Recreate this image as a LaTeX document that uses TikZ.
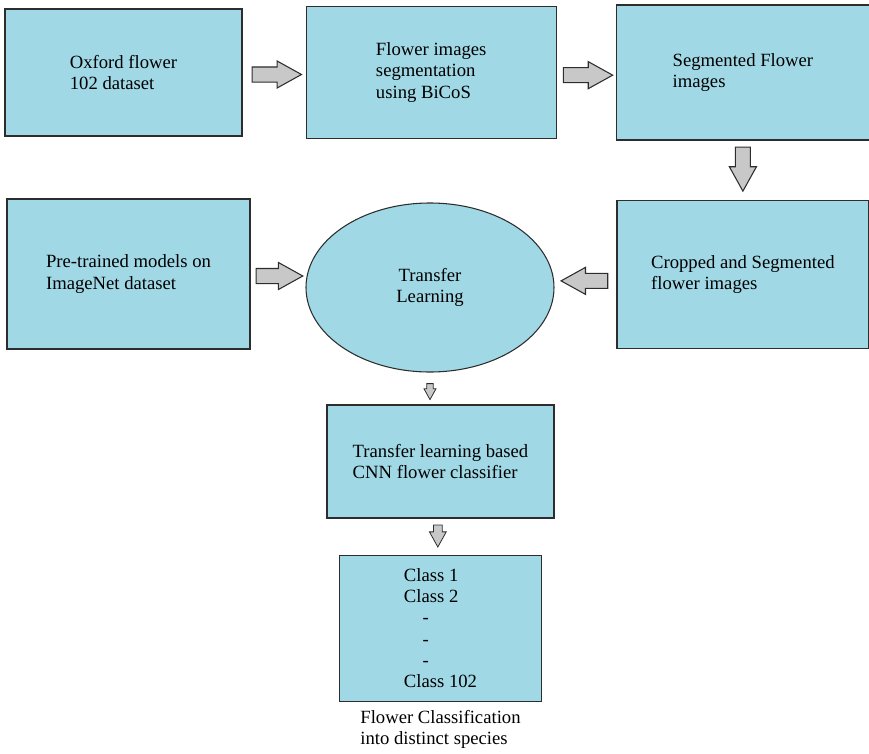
\documentclass[tikz,border=0pt]{standalone}
\usepackage{fontspec}
\setmainfont{Liberation Serif}
\usetikzlibrary{shapes.geometric,shapes.arrows,positioning}
\definecolor{boxblue}{RGB}{160,216,230}
\definecolor{arrowgray}{RGB}{200,200,200}
\definecolor{edgegray}{RGB}{45,45,45}
\tikzset
{
    process/.style={rectangle, draw=edgegray, line width=0.9pt, fill=boxblue, align=left, text=black},
    learner/.style={ellipse, draw=edgegray, line width=0.8pt, fill=boxblue, align=center, inner sep=0pt, text=black},
    bigarrow/.style={single arrow, draw=edgegray, line width=0.8pt, fill=arrowgray, inner xsep=0pt, inner ysep=5.25pt, single arrow head extend=4.5pt, single arrow tip angle=58, minimum height=37pt, anchor=tail},
    downarrow/.style={bigarrow, shape border rotate=270, inner xsep=5.25pt, inner ysep=0pt},
    smalldown/.style={downarrow, inner xsep=#1, single arrow head extend=#1, line width=0.6pt},
    caption/.style={align=left, inner sep=0pt, text=black}
}

\begin{document}
\begin{tikzpicture}[x=0.75pt, y=-0.75pt, font=\fontsize{14}{16}\selectfont]
	\useasboundingbox (0,0) rectangle (869,754);

	\node (oxf) [process, minimum width=177.75pt, minimum height=95.25pt] at (123.5,72.5) {Oxford flower\\102 dataset};
	\node (seg) [process, right=47.25pt of oxf, minimum width=187.5pt, minimum height=99pt] {Flower images\\segmentation\\using BiCoS};
	\node (segimg) [process, right=44.25pt of seg, minimum width=189.75pt, minimum height=101.25pt] {Segmented Flower\\images};
	\node (crop) [process, below=44.25pt of segimg, minimum width=189pt, minimum height=111pt] {Cropped and Segmented\\flower images};
	\node (tl) [learner, minimum width=186pt, minimum height=126.75pt] at (430,287.5) {Transfer\\Learning};
	\node (pre) [process, minimum width=182.25pt, minimum height=112.5pt] at (128.5,274) {Pre-trained models on\\ImageNet dataset};
	\node (cnn) [process, minimum width=170.25pt, minimum height=84.75pt] at (440.5,461.5) {Transfer learning based\\CNN flower classifier};
	\node (cls) [process, below=27pt of cnn, minimum width=151.5pt, minimum height=109.5pt] {Class 1\\Class 2\\\hspace{14pt}-\\\hspace{14pt}-\\\hspace{14pt}-\\Class 102};
	\node (cap) [caption, below=6pt of cls] {Flower Classification\\into distinct species};

	% block arrows between the stages
	\node (a1) [bigarrow, right=6.75pt of oxf, anchor=tail, yshift=-1.5pt] {};
	\node (a2) [bigarrow, right=4.5pt of seg, anchor=tail, yshift=-2pt] {};
	\node (a3) [downarrow, below=4.5pt of segimg, anchor=tail, minimum height=33pt] {};
	\node (a4) [bigarrow, right=3.75pt of pre, anchor=tail, yshift=-1.5pt, minimum height=35pt] {};
	\node (a5) [bigarrow, shape border rotate=180, left=6pt of crop, anchor=tail, yshift=-5pt, minimum height=35pt] {};
	\node (a6) [smalldown=2.1pt, below=8pt of tl, anchor=tail, minimum height=12pt] {};
	\node (a7) [smalldown=3pt, below=4.5pt of cnn, anchor=tail, minimum height=16.5pt, xshift=-2pt] {};

\end{tikzpicture}
\end{document}
